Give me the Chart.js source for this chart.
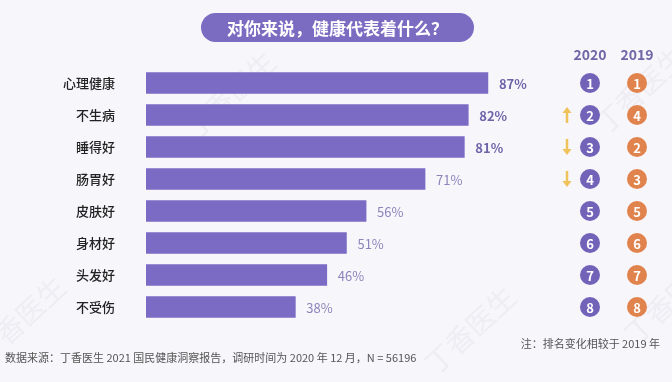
<!DOCTYPE html>
<html><head><meta charset="utf-8">
<script src="https://cdn.jsdelivr.net/npm/chart.js@4"></script>
<style>
html,body{margin:0;padding:0;background:#f7f6fb;}
#wrap{position:relative;width:672px;height:382px;}
</style></head>
<body><div id="wrap"><canvas id="c" width="672" height="382"></canvas></div>
<script>
const categories = ['心理健康','不生病','睡得好','肠胃好','皮肤好','身材好','头发好','不受伤'];
const values = [87,82,81,71,56,51,46,38];
const rank2020 = [1,2,3,4,5,6,7,8];
const rank2019 = [1,4,2,3,5,6,7,8];
const title = '对你来说，健康代表着什么？';
const note = '注：排名变化相较于 2019 年';
const source = '数据来源：丁香医生 2021 国民健康洞察报告，调研时间为 2020 年 12 月，N = 56196';
const watermark = '丁香医生';
const FONT = '"Noto Sans CJK SC", "Noto Sans", sans-serif';

const decor = {
  id:'decor',
  beforeDraw(chart){
    const ctx = chart.ctx;
    ctx.save();
    ctx.fillStyle = '#f7f6fb';
    ctx.fillRect(0,0,chart.width,chart.height);
    // faint watermarks
    ctx.fillStyle='rgba(200,195,215,0.17)';
    ctx.font='28px '+FONT;
    ctx.textAlign='center';ctx.textBaseline='middle';
    [[230,95],[640,90],[20,320],[470,330],[670,300]].forEach(([x,y])=>{
      ctx.save();ctx.translate(x,y);ctx.rotate(-0.75);ctx.fillText(watermark,0,0);ctx.restore();
    });
    // title pill
    const x0=201,x1=474,y0=13,y1=42,r=(y1-y0)/2;
    ctx.fillStyle='#7b6cc2';
    ctx.beginPath();
    ctx.moveTo(x0+r,y0);ctx.lineTo(x1-r,y0);
    ctx.arc(x1-r,y0+r,r,-Math.PI/2,Math.PI/2);
    ctx.lineTo(x0+r,y1);
    ctx.arc(x0+r,y0+r,r,Math.PI/2,Math.PI*1.5);
    ctx.closePath();ctx.fill();
    ctx.fillStyle='#ffffff';
    ctx.font='bold 17px '+FONT;
    ctx.textAlign='center';ctx.textBaseline='middle';
    ctx.fillText(title,(x0+x1)/2,(y0+y1)/2+1);
    ctx.restore();
  },
  afterDatasetsDraw(chart){
    const ctx = chart.ctx;
    const meta = chart.getDatasetMeta(0);
    const ys = chart.scales.y;
    ctx.save();
    // headers
    ctx.font='bold 14px '+FONT;
    ctx.fillStyle='#6f66a6';
    ctx.textAlign='center';ctx.textBaseline='middle';
    ctx.fillText('2020',590,55);
    ctx.fillText('2019',637,55);
    meta.data.forEach((bar,i)=>{
      const y = ys.getPixelForValue(i);
      // value label
      const bold = i<3;
      ctx.font=(bold?'bold ':'')+'13px '+FONT;
      ctx.fillStyle= bold ? '#6e64a8' : '#8c84bb';
      ctx.textAlign='left';ctx.textBaseline='middle';
      ctx.fillText(values[i]+'%', bar.x+11, y+1);
      // circles
      [[590,'#7263b9',rank2020[i]],[637,'#e0834c',rank2019[i]]].forEach(([cx,col,t])=>{
        ctx.fillStyle=col;
        ctx.beginPath();ctx.arc(cx,y,10,0,Math.PI*2);ctx.fill();
        ctx.fillStyle='#ffffff';
        ctx.font='bold 13px '+FONT;
        ctx.textAlign='center';
        ctx.fillText(String(t),cx,y+1);
      });
      // arrows
      if(rank2020[i]!==rank2019[i]){
        const up = rank2020[i]<rank2019[i];
        ctx.strokeStyle='#efc25a';ctx.fillStyle='#efc25a';ctx.lineWidth=2.5;
        const ax=567, top=y-8, bot=y+8;
        ctx.beginPath();
        if(up){ctx.moveTo(ax,bot);ctx.lineTo(ax,top+5);}
        else{ctx.moveTo(ax,top);ctx.lineTo(ax,bot-5);}
        ctx.stroke();
        ctx.beginPath();
        if(up){ctx.moveTo(ax-4.5,top+6);ctx.lineTo(ax+4.5,top+6);ctx.lineTo(ax,top);}
        else{ctx.moveTo(ax-4.5,bot-6);ctx.lineTo(ax+4.5,bot-6);ctx.lineTo(ax,bot);}
        ctx.closePath();ctx.fill();
      }
    });
    // footnotes
    ctx.font='11px '+FONT;
    ctx.fillStyle='#555555';
    ctx.textAlign='right';ctx.textBaseline='middle';
    ctx.fillText(note,660,344);
    ctx.textAlign='left';
    ctx.fillText(source,5,358);
    ctx.restore();
  }
};

new Chart(document.getElementById('c'),{
  type:'bar',
  data:{labels:categories,datasets:[{data:values,backgroundColor:'#7b6bc5',barThickness:21,borderWidth:0}]},
  options:{
    indexAxis:'y',responsive:false,animation:false,
    layout:{padding:{left:0,right:133,top:67,bottom:59}},
    plugins:{legend:{display:false},tooltip:{enabled:false}},
    scales:{
      x:{display:false,min:0,max:100},
      y:{
        grid:{display:false,drawTicks:false},border:{display:false},
        ticks:{color:'#222222',font:{family:FONT,size:13,weight:'500'},padding:31},
        afterFit(s){s.width=146;}
      }
    }
  },
  plugins:[decor]
});
</script></body></html>
